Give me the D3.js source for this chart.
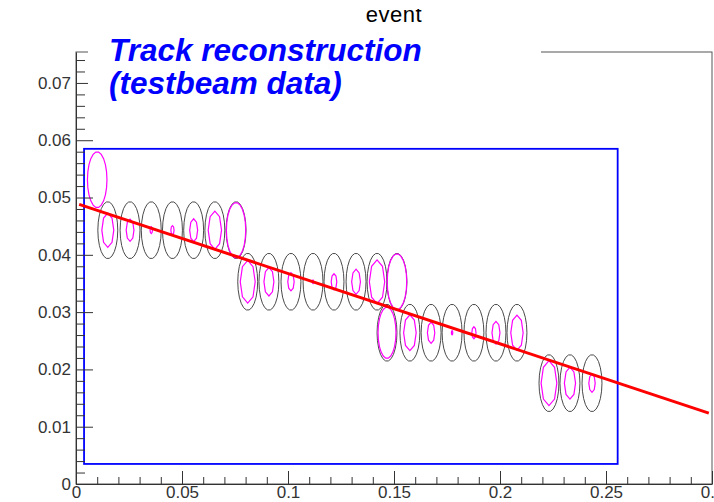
<!DOCTYPE html>
<html>
<head>
<meta charset="utf-8">
<script src="https://cdn.jsdelivr.net/npm/d3@7"></script>
<style>
  html, body { margin: 0; padding: 0; background: #fff; }
  svg { display: block; font-family: "Liberation Sans", Arial, sans-serif; }
</style>
</head>
<body>
<svg id="chart" width="714" height="502"></svg>
<script>
// Hit positions per detector plane (x, y) and relative size of the inner charge contour
const hitX = [
  0.0150, 0.0255, 0.0355, 0.0455, 0.0555, 0.0655, 0.0755,
  0.0810, 0.0910, 0.1014, 0.1118, 0.1217, 0.1321, 0.1420, 0.1514,
  0.1467, 0.1575, 0.1675, 0.1774, 0.1877, 0.1981, 0.2080,
  0.2231, 0.2330, 0.2434
];
const hitY = [
  0.0443, 0.0443, 0.0443, 0.0443, 0.0443, 0.0443, 0.0443,
  0.0353, 0.0353, 0.0353, 0.0353, 0.0353, 0.0353, 0.0353, 0.0353,
  0.0264, 0.0264, 0.0264, 0.0264, 0.0264, 0.0264, 0.0264,
  0.0176, 0.0176, 0.0176
];
const hitCore = [
  0.60, 0.39, 0.12, 0.16, 0.40, 0.67, 0.97,
  0.75, 0.50, 0.32, 0.06, 0.28, 0.44, 0.77, 0.98,
  0.90, 0.63, 0.37, 0.07, 0.21, 0.40, 0.62,
  0.79, 0.56, 0.32
];
// Seed cluster (charge contour only)
const seedX = [0.0100];
const seedY = [0.0531];
const seedCore = [0.98];

// Contour half-widths in data units
const hitRadiusX = 0.0047;
const hitRadiusY = 0.00497;

// Straight-line track fit: y = p0 + p1 * x
const fitP0 = 0.0490;
const fitP1 = -0.1227;
const fitRange = [0.0015, 0.2985];

// Region of interest box
const roiX = [0.0038, 0.2555];
const roiY = [0.0035, 0.0585];

// Axes
const xDomain = [0, 0.3];
const yDomain = [0, 0.0754];
const xMajor = [0, 0.05, 0.1, 0.15, 0.2, 0.25, 0.3];
const xMajorLabels = ["0", "0.05", "0.1", "0.15", "0.2", "0.25", "0.3"];
const xMinor = d3.range(1, 30).map(i => i / 100).filter(v => Math.round(v * 100) % 5 !== 0);
const yMajor = [0, 0.01, 0.02, 0.03, 0.04, 0.05, 0.06, 0.07];
const yMajorLabels = ["0", "0.01", "0.02", "0.03", "0.04", "0.05", "0.06", "0.07"];
const yMinor = d3.range(1, 38).map(i => i * 0.002).filter(v => Math.round(v * 1000) % 10 !== 0 && v < 0.0754);

const titleText = "event";
const paveLines = ["Track reconstruction", "(testbeam data)"];

const svg = d3.select("#chart");
const frameL = 76, frameR = 712, frameT = 52, frameB = 484;

const x = d3.scaleLinear().domain(xDomain).range([frameL, frameR]);
const y = d3.scaleLinear().domain(yDomain).range([frameB, frameT]);

// Frame
svg.append("rect")
  .attr("x", frameL).attr("y", frameT)
  .attr("width", frameR - frameL).attr("height", frameB - frameT)
  .attr("fill", "none").attr("stroke", "#555").attr("stroke-width", 1);

// Polygonal contour around a hit
function contourPath(cx, cy, frac, n) {
  const pts = d3.range(n).map(i => {
    const a = (i / n) * 2 * Math.PI;
    return [x(cx + hitRadiusX * frac * Math.cos(a)), y(cy + hitRadiusY * frac * Math.sin(a))];
  });
  return d3.line().curve(d3.curveLinearClosed)(pts);
}

const hits = hitX.map((hx, i) => ({ x: hx, y: hitY[i], core: hitCore[i] }));

const gHits = svg.append("g");
gHits.selectAll("path.outer")
  .data(hits)
  .join("path")
  .attr("class", "outer")
  .attr("d", d => contourPath(d.x, d.y, 1, 22))
  .attr("fill", "none").attr("stroke", "#4a4a4a").attr("stroke-width", 1);

gHits.selectAll("path.core")
  .data(hits)
  .join("path")
  .attr("class", "core")
  .attr("d", d => contourPath(d.x, d.y, d.core, d.core > 0.85 ? 22 : 8))
  .attr("fill", "none").attr("stroke", "#ff00ff").attr("stroke-width", 1.2);

gHits.selectAll("path.seed")
  .data(seedX.map((sx, i) => ({ x: sx, y: seedY[i], core: seedCore[i] })))
  .join("path")
  .attr("class", "seed")
  .attr("d", d => contourPath(d.x, d.y, d.core, 22))
  .attr("fill", "none").attr("stroke", "#ff00ff").attr("stroke-width", 1.2);

// Region box
svg.append("rect")
  .attr("x", x(roiX[0])).attr("y", y(roiY[1]))
  .attr("width", x(roiX[1]) - x(roiX[0]))
  .attr("height", y(roiY[0]) - y(roiY[1]))
  .attr("fill", "none").attr("stroke", "#0000ff").attr("stroke-width", 1.8);

// Fitted track
svg.append("path")
  .datum(fitRange)
  .attr("d", d3.line().x(d => x(d)).y(d => y(fitP0 + fitP1 * d)))
  .attr("fill", "none").attr("stroke", "#ff0000").attr("stroke-width", 3);

// Axes (ticks drawn inside the frame)
const axisColor = "#333";
const gx = svg.append("g").attr("transform", `translate(0,${frameB})`);
gx.call(d3.axisBottom(x).tickValues(xMinor).tickSize(-7).tickSizeOuter(0).tickFormat(""));
gx.call(g => g.select(".domain").remove());
const gx2 = svg.append("g").attr("transform", `translate(0,${frameB})`);
gx2.call(d3.axisBottom(x).tickValues(xMajor).tickSize(-13).tickSizeOuter(0).tickPadding(2)
  .tickFormat((d, i) => xMajorLabels[i]));

const gy = svg.append("g").attr("transform", `translate(${frameL},0)`);
gy.call(d3.axisLeft(y).tickValues(yMinor).tickSize(-9).tickSizeOuter(0).tickFormat(""));
gy.call(g => g.select(".domain").remove());
const gy2 = svg.append("g").attr("transform", `translate(${frameL},0)`);
gy2.call(d3.axisLeft(y).tickValues(yMajor).tickSize(-17).tickSizeOuter(0).tickPadding(5)
  .tickFormat((d, i) => yMajorLabels[i]));

svg.selectAll(".tick line").attr("stroke", axisColor);
svg.selectAll(".domain").attr("stroke", axisColor);
svg.selectAll(".tick text")
  .attr("fill", "#333")
  .style("font-size", "17px")
  .style("font-family", "'Liberation Sans', Arial, sans-serif");

// Title pave over the top of the frame
svg.append("rect")
  .attr("x", 88).attr("y", 28).attr("width", 541 - 88).attr("height", 84)
  .attr("fill", "#fff");
const pave = svg.append("g");
pave.selectAll("text")
  .data(paveLines)
  .join("text")
  .attr("x", 109)
  .attr("y", (d, i) => 61 + i * 33)
  .attr("fill", "#0000ff")
  .style("font-size", "31.5px")
  .style("font-weight", "bold")
  .style("font-style", "italic")
  .text(d => d);

// Histogram title
svg.append("defs").append("clipPath").attr("id", "titleClip")
  .append("rect").attr("x", 0).attr("y", 9).attr("width", 714).attr("height", 30);
svg.append("text")
  .attr("x", 394).attr("y", 22)
  .attr("text-anchor", "middle")
  .attr("clip-path", "url(#titleClip)")
  .attr("fill", "#000")
  .style("font-size", "22px")
  .style("letter-spacing", "0.5px")
  .text(titleText);
</script>
</body>
</html>
